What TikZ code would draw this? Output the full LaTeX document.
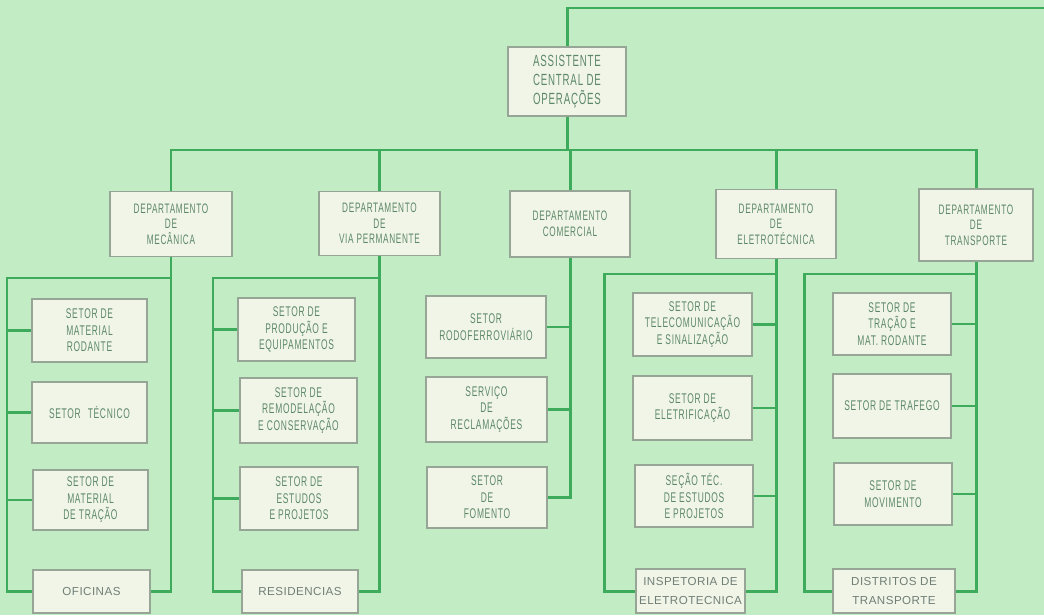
\documentclass[tikz,border=0pt]{standalone}
\usepackage{fontspec}
\setmainfont{Liberation Sans}
\newfontfamily\stencilfont[FakeStretch=0.6,LetterSpace=5]{Liberation Sans}
\newfontfamily\plainfont[LetterSpace=4]{Liberation Sans}
\usetikzlibrary{positioning,calc,backgrounds}

\definecolor{bggreen}{RGB}{194,236,196}
\definecolor{linegreen}{RGB}{62,170,92}
\definecolor{boxfill}{RGB}{241,245,232}
\definecolor{boxline}{RGB}{150,165,150}
\definecolor{inkgreen}{RGB}{92,136,104}
\definecolor{inkgray}{RGB}{112,126,118}

\tikzset{
    box/.style={draw=boxline, line width=0.6pt, fill=boxfill, align=center, inner sep=1pt,
        text=inkgreen, font=\stencilfont\fontsize{8}{9.4}\selectfont},
    deptbox/.style={box, font=\stencilfont\fontsize{7.8}{8.9}\selectfont},
    bottombox/.style={box, text=inkgray, font=\plainfont\fontsize{6.6}{12.5}\selectfont},
    boxsize/.style 2 args={minimum width=#1*0.02cm, minimum height=#2*0.02cm},
    link/.style={draw=linegreen, line width=1.7pt}
}

\begin{document}
\begin{tikzpicture}[x=0.02cm, y=-0.02cm]

    \useasboundingbox (0,0) rectangle (1044,615);

    % head
    \node[box, boxsize={118}{69}, font=\stencilfont\fontsize{9.2}{10.6}\selectfont] (aco) at (567,81.5)
        {ASSISTENTE\\CENTRAL DE\\OPERAÇÕES};

    % departments
    \node[deptbox, boxsize={122}{65}] (mec) at (171,224) {DEPARTAMENTO\\DE\\MECÂNICA};
    \node[deptbox, boxsize={121}{64}] (via) at (379.5,223.5) {DEPARTAMENTO\\DE\\VIA PERMANENTE};
    \node[deptbox, boxsize={120}{66}] (com) at (570,224) {DEPARTAMENTO\\COMERCIAL};
    \node[deptbox, boxsize={120}{69}] (ele) at (776,224) {DEPARTAMENTO\\DE\\ELETROTÉCNICA};
    \node[deptbox, boxsize={114}{72}] (tra) at (976,225) {DEPARTAMENTO\\DE\\TRANSPORTE};

    % mecanica
    \node[box, boxsize={115}{63}] (mr) at (89.5,330.5) {SETOR DE\\MATERIAL\\RODANTE};
    \node[box, boxsize={115}{61}] (tec) at (89.5,412.5) {SETOR\enspace TÉCNICO};
    \node[box, boxsize={115}{60}] (mt) at (90.5,500) {SETOR DE\\MATERIAL\\DE TRAÇÃO};
    \node[bottombox, boxsize={117}{43}] (ofi) at (91.5,591.5) {OFICINAS};

    % via permanente
    \node[box, boxsize={117}{63}] (prod) at (296.5,329.5) {SETOR DE\\PRODUÇÃO E\\EQUIPAMENTOS};
    \node[box, boxsize={117}{65}] (rem) at (298.5,410.5) {SETOR DE\\REMODELAÇÃO\\E CONSERVAÇÃO};
    \node[box, boxsize={118}{63}] (est) at (299,498.5) {SETOR DE\\ESTUDOS\\E PROJETOS};
    \node[bottombox, boxsize={116}{43}] (res) at (300,591.5) {RESIDENCIAS};

    % comercial
    \node[box, boxsize={120}{62}] (rod) at (486,327) {SETOR\\RODOFERROVIÁRIO};
    \node[box, boxsize={121}{65}] (rec) at (486.5,409.5) {SERVIÇO\\DE\\RECLAMAÇÕES};
    \node[box, boxsize={120}{61}] (fom) at (487,497.5) {SETOR\\DE\\FOMENTO};

    % eletrotecnica
    \node[box, boxsize={119}{63}] (tel) at (692.5,324.5) {SETOR DE\\TELECOMUNICAÇÃO\\E SINALIZAÇÃO};
    \node[box, boxsize={119}{64}] (elf) at (692.5,408) {SETOR DE\\ELETRIFICAÇÃO};
    \node[box, boxsize={118}{62}] (sec) at (694,496) {SEÇÃO TÉC.\\DE ESTUDOS\\E PROJETOS};
    \node[bottombox, boxsize={109}{44}, font=\plainfont\fontsize{6.6}{11}\selectfont] (ins) at (690.5,591)
        {INSPETORIA DE\\ELETROTECNICA};

    % transporte
    \node[box, boxsize={118}{62}] (trm) at (892,324) {SETOR DE\\TRAÇÃO E\\MAT. RODANTE};
    \node[box, boxsize={118}{64}] (trf) at (892,406) {SETOR DE TRAFEGO};
    \node[box, boxsize={118}{62}] (mov) at (893,494) {SETOR DE\\MOVIMENTO};
    \node[bottombox, boxsize={122}{44}, font=\plainfont\fontsize{6.6}{11}\selectfont] (dis) at (894,591)
        {DISTRITOS DE\\TRANSPORTE};

    \coordinate (topend) at (1050,8);
    \coordinate (bus) at (0,150);
    \coordinate (mecloop) at (7,278);
    \coordinate (vialoop) at (213,278);
    \coordinate (eleloop) at (604,274);
    \coordinate (traloop) at (804,274);

    \begin{scope}[on background layer]
    \fill[bggreen] (0,0) rectangle (1044,615);

    % top links
    \draw[link] (aco.north) |- (topend);
    \draw[link] (aco.south) -- (aco.south |- bus);
    \draw[link] (mec.north) |- (tra.north |- bus) -- (tra.north);
    \foreach \d in {via,com,ele}
        \draw[link] (\d.north) -- (\d.north |- bus);

    % mecanica loop
    \draw[link] (mec.south) |- (ofi.east);
    \draw[link] (mec.south |- mecloop) -- (mecloop) |- (ofi.west);
    \foreach \s in {mr,tec,mt}
        \draw[link] (mecloop |- \s.west) -- (\s.west);

    % via permanente loop
    \draw[link] (via.south) |- (res.east);
    \draw[link] (via.south |- vialoop) -- (vialoop) |- (res.west);
    \foreach \s in {prod,rem,est}
        \draw[link] (vialoop |- \s.west) -- (\s.west);

    % comercial
    \draw[link] (com.south) |- (fom.east);
    \foreach \s in {rod,rec}
        \draw[link] (\s.east) -- (com.south |- \s.east);

    % eletrotecnica loop
    \draw[link] (ele.south) |- (ins.east);
    \draw[link] (ele.south |- eleloop) -- (eleloop) |- (ins.west);
    \foreach \s in {tel,elf,sec}
        \draw[link] (\s.east) -- (ele.south |- \s.east);

    % transporte loop
    \draw[link] (tra.south) |- (dis.east);
    \draw[link] (tra.south |- traloop) -- (traloop) |- (dis.west);
    \foreach \s in {trm,trf,mov}
        \draw[link] (\s.east) -- (tra.south |- \s.east);
    \end{scope}

\end{tikzpicture}
\end{document}
